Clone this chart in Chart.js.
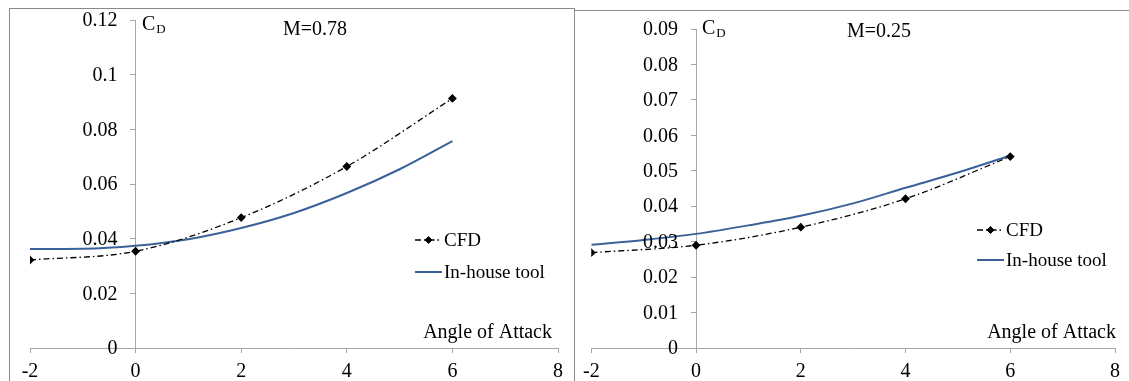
<!DOCTYPE html>
<html>
<head>
<meta charset="utf-8">
<script src="https://cdn.jsdelivr.net/npm/chart.js@4.4.0/dist/chart.umd.min.js"></script>
<style>
  body { margin: 0; background: #fff; }
  #wrap { position: relative; width: 1129px; height: 381px; overflow: hidden; }
  .frame { position: absolute; border: 1px solid #8a8a8a; }
  .panel { position: absolute; top: 0; height: 381px; }
</style>
</head>
<body>
<div id="wrap">
  <div class="frame" style="left:9px; top:8px; width:564px; height:420px"></div>
  <div class="frame" style="left:574px; top:10px; width:600px; height:420px"></div>
  <div class="panel" style="left:0; width:574px"><canvas id="c1" width="574" height="381"></canvas></div>
  <div class="panel" style="left:574px; width:555px"><canvas id="c2" width="555" height="381"></canvas></div>
</div>
<script>
// angle of attack (deg)
const aoaCfd = [-2, 0, 2, 4, 6];
const aoaTool = [-2, -1, 0, 1, 2, 3, 4, 5, 6];

// drag coefficient, M = 0.78
const cfdM078 = [0.0322, 0.0354, 0.0477, 0.0664, 0.0913];
const toolM078 = [0.0362, 0.0363, 0.0374, 0.0398, 0.0439, 0.0494, 0.0567, 0.0654, 0.0757];

// drag coefficient, M = 0.25
const cfdM025 = [0.0269, 0.0290, 0.0341, 0.0421, 0.0540];
const toolM025 = [0.0291, 0.0305, 0.0322, 0.0346, 0.0373, 0.0408, 0.0452, 0.0495, 0.0543];

// axis ticks
const xTicks = [-2, 0, 2, 4, 6, 8];
const yTicksM078 = [0, 0.02, 0.04, 0.06, 0.08, 0.1, 0.12];
const yTicksM025 = [0, 0.01, 0.02, 0.03, 0.04, 0.05, 0.06, 0.07, 0.08, 0.09];

const serif = 'Liberation Serif, Times New Roman, serif';
const axisGrey = '#a6a6a6';
const toolBlue = '#3a6298';

function toXY(xs, ys) {
  return xs.map((x, i) => ({ x: x, y: ys[i] }));
}

// texts drawn inside the plot: y tick labels (axis sits at x = 0), C_D, Mach number, axis title, legend
const panelText = {
  id: 'panelText',
  afterDraw(chart, args, opts) {
    const ctx = chart.ctx;
    const xs = chart.scales.x, ys = chart.scales.y;
    ctx.save();
    ctx.fillStyle = '#000';
    ctx.textBaseline = 'middle';

    // y tick labels, left of the axis line at x = 0
    ctx.font = '20px ' + serif;
    ctx.textAlign = 'right';
    const axisX = xs.getPixelForValue(0);
    ys.ticks.forEach(t => {
      ctx.fillText(String(t.value), axisX - 18, ys.getPixelForValue(t.value) + 1);
    });

    ctx.textAlign = 'left';
    ctx.fillText('C', opts.cd[0], opts.cd[1]);
    const cw = ctx.measureText('C').width;
    ctx.font = '13px ' + serif;
    ctx.fillText('D', opts.cd[0] + cw + 1, opts.cd[1] + 5);

    ctx.font = '20px ' + serif;
    ctx.fillText(opts.mach, opts.machPos[0], opts.machPos[1]);

    ctx.textAlign = 'right';
    ctx.fillText('Angle of Attack', opts.xTitle[0], opts.xTitle[1]);

    // legend
    ctx.textAlign = 'left';
    ctx.font = '19px ' + serif;
    const lg = opts.legend;
    chart.data.datasets.forEach((ds, i) => {
      const y = lg.y[i];
      ctx.save();
      ctx.strokeStyle = ds.borderColor;
      ctx.lineWidth = ds.borderWidth;
      ctx.setLineDash(ds.borderDash || []);
      ctx.beginPath();
      ctx.moveTo(lg.x0, y);
      ctx.lineTo(lg.x1, y);
      ctx.stroke();
      ctx.restore();
      if (ds.pointRadius > 0) {
        Chart.helpers.drawPoint(ctx, {
          pointStyle: ds.pointStyle, radius: ds.pointRadius, borderWidth: 1
        }, (lg.x0 + lg.x1) / 2, y);
      }
      ctx.fillText(ds.label, lg.x1 + 2, y + 1);
    });
    ctx.restore();
  }
};

function makeChart(id, cfd, tool, yMax, yTicks, pad, textOpts) {
  return new Chart(document.getElementById(id), {
    type: 'line',
    data: {
      datasets: [
        {
          label: 'CFD',
          data: toXY(aoaCfd, cfd),
          borderColor: '#000',
          backgroundColor: '#000',
          borderWidth: 1.3,
          borderDash: [6, 3, 1.5, 3],
          pointStyle: 'rectRot',
          pointRadius: 3.5,
          pointBackgroundColor: '#000',
          pointBorderColor: '#000',
          cubicInterpolationMode: 'monotone'
        },
        {
          label: 'In-house tool',
          data: toXY(aoaTool, tool),
          borderColor: toolBlue,
          backgroundColor: toolBlue,
          borderWidth: 2,
          pointRadius: 0,
          cubicInterpolationMode: 'monotone'
        }
      ]
    },
    options: {
      responsive: false,
      animation: false,
      layout: { padding: pad },
      plugins: {
        legend: { display: false },
        tooltip: { enabled: false },
        panelText: textOpts
      },
      scales: {
        x: {
          type: 'linear',
          position: 'bottom',
          min: -2,
          max: 8,
          afterBuildTicks: (s) => { s.ticks = xTicks.map(v => ({ value: v })); },
          afterFit: (s) => { s.height = 33; },
          border: { color: axisGrey, width: 1 },
          grid: { drawOnChartArea: false, color: axisGrey, tickLength: 5 },
          ticks: { color: '#000', font: { family: serif, size: 20, lineHeight: 1 }, padding: 9, maxRotation: 0 }
        },
        y: {
          type: 'linear',
          position: { x: 0 },
          min: 0,
          max: yMax,
          afterBuildTicks: (s) => { s.ticks = yTicks.map(v => ({ value: v })); },
          border: { color: axisGrey, width: 1 },
          grid: { drawOnChartArea: false, color: axisGrey, tickLength: 5 },
          ticks: { display: false }
        }
      }
    },
    plugins: [panelText]
  });
}

makeChart('c1', cfdM078, toolM078, 0.12, yTicksM078,
  { left: 30, right: 16, top: 20, bottom: 0 },
  { cd: [142, 25], mach: 'M=0.78', machPos: [283, 30], xTitle: [552, 333],
    legend: { x0: 415, x1: 442, y: [240, 272] } });

makeChart('c2', cfdM025, toolM025, 0.09, yTicksM025,
  { left: 16, right: 14, top: 29, bottom: 0 },
  { cd: [128, 29], mach: 'M=0.25', machPos: [273, 32], xTitle: [542, 333],
    legend: { x0: 403, x1: 430, y: [230, 260] } });
</script>
</body>
</html>
